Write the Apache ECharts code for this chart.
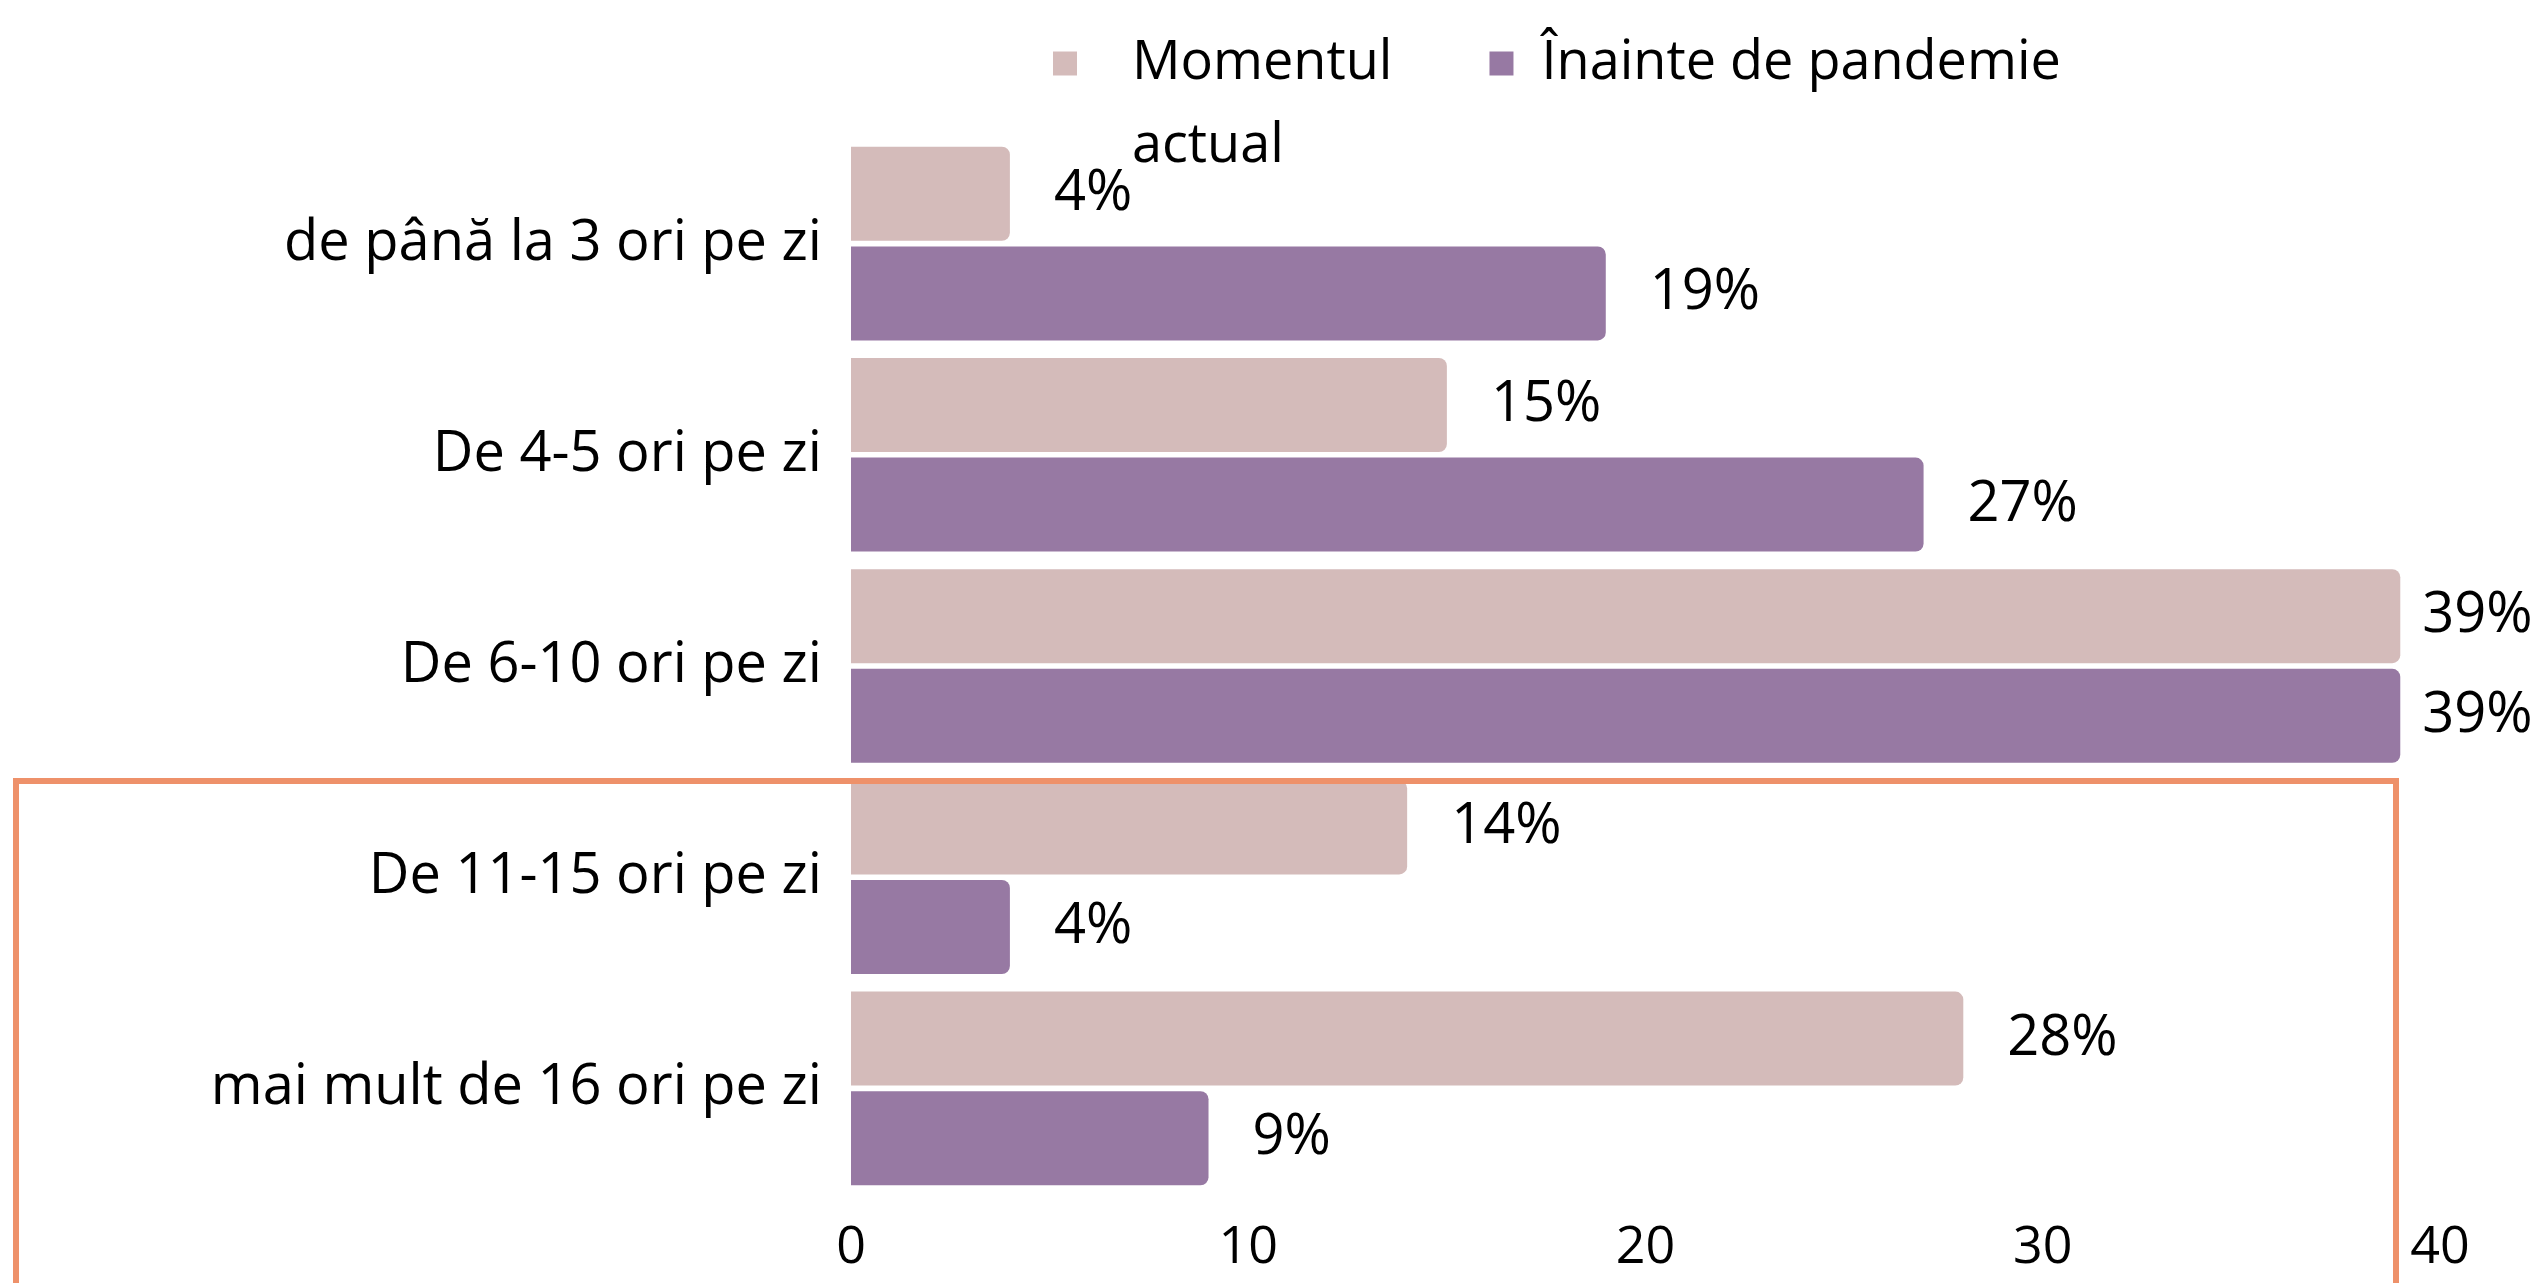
<!DOCTYPE html>
<html>
<head>
<meta charset="utf-8">
<script src="https://cdn.jsdelivr.net/npm/echarts@6/dist/echarts.min.js"></script>
<style>
html, body { margin: 0; padding: 0; background: #fff; }
#chart { width: 2543px; height: 1283px; }
</style>
</head>
<body>
<div id="chart"></div>
<script>
// categories, top to bottom
const categories = [
	'de până la 3 ori pe zi',
	'De 4-5 ori pe zi',
	'De 6-10 ori pe zi',
	'De 11-15 ori pe zi',
	'mai mult de 16 ori pe zi',
]
const seriesNames = ['Momentul actual', 'Înainte de pandemie']
const currentValues = [4, 15, 39, 14, 28] // Momentul actual
const beforeValues = [19, 27, 39, 4, 9] // Înainte de pandemie
const xTicks = [0, 10, 20, 30, 40]

const COLORS = ['#D4BBBA', '#9779A3']
const FONT = 'Open Sans'

const chart = echarts.init(document.getElementById('chart'))

// bar series common style
function makeSeries(name, data, color) {
	return {
		name,
		type: 'bar',
		// labels near the axis max are pulled in so they stay on the canvas
		data: data.map((v) => (v >= 35 ? { value: v, label: { distance: 22 } } : v)),
		barWidth: 94,
		barGap: '6%',
		itemStyle: {
			color,
			borderRadius: [0, 8, 8, 0],
		},
		label: {
			show: true,
			position: 'right',
			distance: 44,
			formatter: '{c}%',
			color: '#000',
			fontFamily: FONT,
			fontSize: 56,
		},
	}
}

chart.setOption({
	animation: false,
	color: COLORS,
	textStyle: { fontFamily: FONT },
	legend: {
		left: 1053,
		top: -61,
		padding: 0,
		orient: 'horizontal',
		itemWidth: 24,
		itemHeight: 24,
		itemGap: 97,
		icon: 'rect',
		textStyle: {
			color: '#000',
			fontFamily: FONT,
			fontSize: 54,
		},
		// blank first line keeps "Momentul" level with its marker
		formatter: (name) => (name === seriesNames[0] ? ' \nMomentul\nactual' : name),
		data: [
			{
				name: seriesNames[0],
				textStyle: { lineHeight: 83, padding: [0, 0, 0, 50] },
			},
			{
				name: seriesNames[1],
				textStyle: { lineHeight: 60, padding: [0, 0, 0, 23] },
			},
		],
	},
	grid: {
		left: 851,
		right: 103,
		top: 138,
		bottom: 89,
		containLabel: false,
	},
	xAxis: {
		type: 'value',
		min: xTicks[0],
		max: xTicks[xTicks.length - 1],
		interval: xTicks[1] - xTicks[0],
		axisLine: { show: false },
		axisTick: { show: false },
		splitLine: { show: false },
		axisLabel: {
			color: '#000',
			fontFamily: FONT,
			fontSize: 52,
			margin: 28,
		},
	},
	yAxis: {
		type: 'category',
		inverse: true,
		data: categories,
		axisLine: { show: false },
		axisTick: { show: false },
		axisLabel: {
			color: '#000',
			fontFamily: FONT,
			fontSize: 56,
			margin: 29,
		},
	},
	series: [
		makeSeries(seriesNames[0], currentValues, COLORS[0]),
		makeSeries(seriesNames[1], beforeValues, COLORS[1]),
	],
	// orange highlight frame around the lower two categories
	graphic: [
		{
			type: 'rect',
			silent: true,
			z: 100,
			shape: { x: 16, y: 781, width: 2380, height: 700 },
			style: { fill: 'none', stroke: '#EE916A', lineWidth: 6 },
		},
	],
})
</script>
</body>
</html>
